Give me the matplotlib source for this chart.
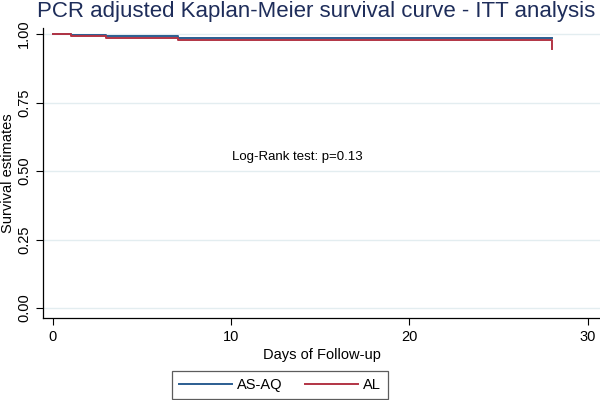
import numpy as np
import matplotlib.pyplot as plt

plt.rcParams['font.family'] = ['Liberation Sans', 'DejaVu Sans']

# step points (days, survival)
days_asaq = [0, 1, 3, 7, 28]
surv_asaq = [1.0, 0.996, 0.991, 0.984, 0.984]
days_al = [0, 1, 3, 7, 28]
surv_al = [1.0, 0.991, 0.985, 0.978, 0.944]

yticks = [0.0, 0.25, 0.5, 0.75, 1.0]
xticks = [0, 10, 20, 30]

fig = plt.figure(figsize=(6, 4), dpi=100)
ax = fig.add_axes([43/600, 82/400, 557/600, 290/400])

for y in yticks:
    ax.axhline(y, color='#e3edf0', lw=1, zorder=0)

ax.step(days_asaq, surv_asaq, where='post', color='#2b5d90', lw=1.4, label='AS-AQ')
ax.step(days_al, surv_al, where='post', color='#b23444', lw=1.4, label='AL')

ax.set_xlim(-0.55, 30.7)
ax.set_ylim(-0.0365, 1.022)
ax.set_xticks(xticks)
ax.set_yticks(yticks)
ax.set_yticklabels(['%.2f' % v for v in yticks], rotation=90, va='center')
ax.tick_params(labelsize=10.5, length=5, width=0.8, color='black')
for s in ['top', 'right']:
    ax.spines[s].set_visible(False)
for s in ['left', 'bottom']:
    ax.spines[s].set_linewidth(0.9)

ax.set_xlabel('Days of Follow-up', fontsize=10.5, labelpad=3)
ax.set_ylabel('Survival estimates', fontsize=10.5)
ax.yaxis.set_label_coords(-28/557, 0.5)
ax.text(13.7, 0.551, 'Log-Rank test: p=0.13', fontsize=9.5, ha='center', va='center')

fig.text(37/600, 1 - 12/400, 'PCR adjusted Kaplan-Meier survival curve - ITT analysis',
         fontsize=16, color='#1e2d5a', ha='left', va='center')

leg = fig.legend(loc='center', bbox_to_anchor=(280/600, 15/400), ncol=2,
                 fontsize=10.5, frameon=True, fancybox=False, edgecolor='#333333',
                 handlelength=3.6, handletextpad=0.35, columnspacing=1.6,
                 borderpad=0.45, borderaxespad=0)
leg.get_frame().set_linewidth(0.9)

fig.savefig('out.png', dpi=100)
